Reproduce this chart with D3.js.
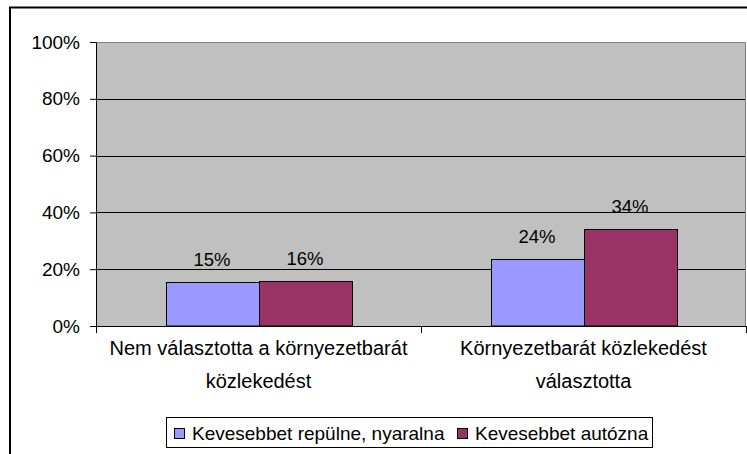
<!DOCTYPE html>
<html>
<head>
<meta charset="utf-8">
<script src="https://cdn.jsdelivr.net/npm/d3@7"></script>
<style>
  body { margin: 0; background: #fff; }
  svg { display: block; font-family: "Liberation Sans", Arial, sans-serif; }
</style>
</head>
<body>
<div id="chart"></div>
<script>
var categories = [
  ["Nem választotta a környezetbarát", "közlekedést"],
  ["Környezetbarát közlekedést", "választotta"]
];
var seriesNames = ["Kevesebbet repülne, nyaralna", "Kevesebbet autózna"];
var seriesColors = ["#9999ff", "#993366"];
var repulne = [0.154, 0.236];
var autozna = [0.16, 0.34];
var yTicks = [0, 0.2, 0.4, 0.6, 0.8, 1];

var W = 747, H = 454;
var margin = {top: 42, right: 1, bottom: 128, left: 96},
    width = W - margin.left - margin.right,
    height = H - margin.top - margin.bottom;

var svg = d3.select("#chart").append("svg")
    .attr("width", W)
    .attr("height", H);

// outer chart frame (runs off the right and bottom edges)
svg.append("rect")
    .attr("x", 10).attr("y", 7.5)
    .attr("width", W + 20).attr("height", H + 20)
    .attr("fill", "#fff")
    .attr("stroke", "#000")
    .attr("stroke-width", 2);

var g = svg.append("g")
    .attr("transform", "translate(" + margin.left + "," + margin.top + ")");

var x0 = d3.scaleBand()
    .domain(d3.range(categories.length))
    .range([0, width]);

// gap width 150%: two bars + 1.5 bar per category
var x1 = d3.scaleBand()
    .domain([0, 1])
    .range([x0.bandwidth() * 0.75 / 3.5, x0.bandwidth() * (1 - 0.75 / 3.5)]);

var yScale = d3.scaleLinear()
    .domain([0, 1])
    .range([height, 0]);

g.append("rect")
    .attr("width", width).attr("height", height)
    .attr("fill", "#c0c0c0");

g.selectAll(".grid")
  .data(yTicks.filter(function(d) { return d > 0 && d < 1; }))
  .enter().append("line")
    .attr("class", "grid")
    .attr("x1", 0).attr("x2", width)
    .attr("y1", function(d) { return Math.round(yScale(d)) + 0.5; })
    .attr("y2", function(d) { return Math.round(yScale(d)) + 0.5; })
    .attr("stroke", "#000");

// plot area border top/right
g.append("path")
    .attr("d", "M0,0.5H" + (width - 0.5) + "V" + height)
    .attr("fill", "none")
    .attr("stroke", "#808080");

var data = [];
categories.forEach(function(c, i) {
  data.push({cat: i, s: 0, v: repulne[i]});
  data.push({cat: i, s: 1, v: autozna[i]});
});

g.selectAll(".bar")
  .data(data)
  .enter().append("rect")
    .attr("class", "bar")
    .attr("x", function(d) { return Math.round(x0(d.cat) + x1(d.s)) + 0.5; })
    .attr("y", function(d) { return Math.round(yScale(d.v)) + 0.5; })
    .attr("width", Math.round(x1.bandwidth()))
    .attr("height", function(d) { return height - Math.round(yScale(d.v)) - 0.5; })
    .attr("fill", function(d) { return seriesColors[d.s]; })
    .attr("stroke", "#000");

g.selectAll(".lbl")
  .data(data)
  .enter().append("text")
    .attr("class", "lbl")
    .attr("x", function(d) { return x0(d.cat) + x1(d.s) + x1.bandwidth() / 2; })
    .attr("y", function(d) { return yScale(d.v) - 16; })
    .attr("text-anchor", "middle")
    .style("font-size", "18.5px")
    .text(function(d) { return d3.format(".0%")(d.v); });

// y axis
var yAxis = g.append("g")
    .call(d3.axisLeft(yScale).tickValues(yTicks).tickFormat(d3.format(".0%"))
      .tickSizeInner(6).tickSizeOuter(0).tickPadding(10));
yAxis.select(".domain").attr("stroke", "#000");
yAxis.selectAll("line").attr("stroke", "#000");
yAxis.selectAll("text")
    .attr("fill", "#000")
    .style("font-size", "19px")
    .style("font-family", "Liberation Sans, Arial, sans-serif");

// x axis: ticks between categories
var xAxis = g.append("g")
    .attr("transform", "translate(0," + height + ")");
xAxis.append("line")
    .attr("x1", 0).attr("x2", width)
    .attr("y1", 0.5).attr("y2", 0.5)
    .attr("stroke", "#000");
xAxis.selectAll(".xt")
  .data([0, 1, 2])
  .enter().append("line")
    .attr("class", "xt")
    .attr("x1", function(d) { return Math.round(d * x0.step()) + 0.5; })
    .attr("x2", function(d) { return Math.round(d * x0.step()) + 0.5; })
    .attr("y1", 0).attr("y2", 7)
    .attr("stroke", "#000");

var catText = xAxis.selectAll(".cat")
  .data(categories)
  .enter().append("text")
    .attr("class", "cat")
    .attr("text-anchor", "middle")
    .attr("x", function(d, i) { return x0(i) + x0.bandwidth() / 2; })
    .style("font-size", "20px");
catText.selectAll("tspan")
  .data(function(d) { return d; })
  .enter().append("tspan")
    .attr("x", function() { return d3.select(this.parentNode).attr("x"); })
    .attr("y", function(d, i) { return 29 + i * 33; })
    .text(function(d) { return d; });

// legend
var legend = svg.append("g");
legend.append("rect")
    .attr("x", 166.5).attr("y", 417.5)
    .attr("width", 486).attr("height", 30)
    .attr("fill", "#fff")
    .attr("stroke", "#000");
var legX = [174, 457];
seriesNames.forEach(function(name, i) {
  legend.append("rect")
      .attr("x", legX[i] + 0.5).attr("y", 428.5)
      .attr("width", 10).attr("height", 10)
      .attr("fill", seriesColors[i])
      .attr("stroke", "#000");
  legend.append("text")
      .attr("x", legX[i] + 18)
      .attr("y", 440)
      .style("font-size", "19px")
      .text(name);
});
</script>
</body>
</html>
